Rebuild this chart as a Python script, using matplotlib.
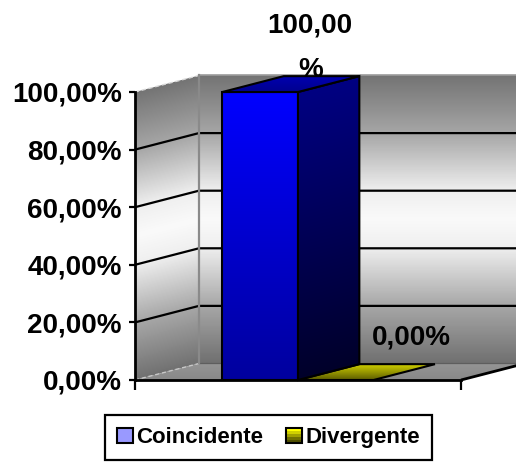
import numpy as np
import matplotlib
matplotlib.use("Agg")
import matplotlib.pyplot as plt
from matplotlib.patches import Polygon, Rectangle, Patch
from matplotlib.colors import LinearSegmentedColormap
from matplotlib.ticker import FuncFormatter
from matplotlib.legend_handler import HandlerBase

plt.rcParams['font.family'] = ['Liberation Sans', 'DejaVu Sans']
plt.rcParams['font.weight'] = 'bold'

# ---- data -------------------------------------------------------------
series_names = ["Coincidente", "Divergente"]
series_values = [100.0, 0.0]
y_ticks = [0, 20, 40, 60, 80, 100]

# ---- figure / front plane --------------------------------------------
W, H, DPI = 516, 463, 100
fig = plt.figure(figsize=(W / DPI, H / DPI), dpi=DPI)
fig.patch.set_facecolor('white')

ax = fig.add_axes([135 / W, 83 / H, 326 / W, 288 / H])
ax.set_autoscale_on(False)
ax.set_xlim(0, 1)
ax.set_ylim(0, 100)
ax.patch.set_visible(False)

# oblique depth vector of the 3-D box (data units of the front plane)
DX, DY = 0.196, 5.73
BAR_W = 0.232
BAR_DEPTH = 0.96


def pct(v):
    return f"{v:.2f}".replace('.', ',') + '%'


def shaded_face(verts, colors, base, slope, height, zorder, edge=None, lw=1.5):
    """Fill a polygon with a linear gradient running 'upwards' from a base line
    y = base[1] + slope * (x - base[0]) over the given height."""
    verts = np.asarray(verts, dtype=float)
    x0, y0 = verts.min(0)
    x1, y1 = verts.max(0)
    xs = np.linspace(x0, x1, 300)
    ys = np.linspace(y0, y1, 300)
    X, Y = np.meshgrid(xs, ys)
    t = (Y - (base[1] + slope * (X - base[0]))) / height
    cmap = LinearSegmentedColormap.from_list('face', colors)
    rgba = cmap(np.clip(t, 0, 1))
    im = ax.imshow(rgba, extent=(x0, x1, y0, y1), origin='lower', aspect='auto',
                   interpolation='bilinear', zorder=zorder)
    clip = Polygon(verts, closed=True, transform=ax.transData)
    im.set_clip_path(clip)
    im.set_clip_box(fig.bbox)
    if edge is not None:
        ax.add_patch(Polygon(verts, closed=True, fill=False, edgecolor=edge,
                             lw=lw, joinstyle='miter', clip_on=False,
                             zorder=zorder + 0.05))
    return im


wall_colors = [(0.0, '#717171'), (0.2, '#a8a8a8'), (0.4, '#efefef'),
               (0.5, '#fafafa'), (0.6, '#efefef'), (0.8, '#a6a6a6'),
               (1.0, '#747474')]

# back wall
shaded_face([(DX, DY), (1 + DX, DY), (1 + DX, 100 + DY), (DX, 100 + DY)],
            wall_colors, (DX, DY), 0.0, 100, zorder=1)
# side wall
shaded_face([(0, 0), (DX, DY), (DX, 100 + DY), (0, 100)],
            wall_colors, (0, 0), DY / DX, 100, zorder=1)
# floor
shaded_face([(0, 0), (1, 0), (1 + DX, DY), (DX, DY)],
            [(0, '#888888'), (1, '#959595')], (0, 0), 0.0, DY, zorder=1)

# gridlines on the walls
for v in y_ticks:
    if 0 < v < 100:
        ax.plot([0, DX, 1 + DX], [v, v + DY, v + DY], color='black', lw=1.6,
                clip_on=False, zorder=2, solid_capstyle='butt')
ax.plot([0, DX], [100, 100 + DY], color='#d9d9d9', lw=1.0, ls=(0, (3, 2)),
        clip_on=False, zorder=2)
ax.plot([0, DX], [0, DY], color='#c8c8c8', lw=1.0, ls=(0, (3, 2)),
        clip_on=False, zorder=2)
ax.plot([DX, 1 + DX], [100 + DY, 100 + DY], color='#9c9c9c', lw=1.2,
        clip_on=False, zorder=2)
ax.plot([DX, 1 + DX], [DY, DY], color='#5e5e5e', lw=0.9,
        clip_on=False, zorder=2)
ax.plot([DX, DX], [DY, 100 + DY], color='#8a8a8a', lw=1.6,
        clip_on=False, zorder=2)
# right edge of the floor
ax.plot([1, 1 + DX], [0, DY], color='black', lw=2.0, clip_on=False, zorder=5,
        solid_capstyle='butt')

# ---- 3-D bars ---------------------------------------------------------
face_styles = [
    dict(front=[(0, '#00009e'), (1, '#0000ff')],
         side=[(0, '#00002a'), (1, '#000082')],
         top=[(0, '#00008e'), (1, '#0000b0')]),
    dict(front=[(0, '#555500'), (1, '#cccc00')],
         side=[(0, '#333300'), (1, '#888800')],
         top=[(0, '#5c5c00'), (1, '#d2d200')]),
]

n = len(series_values)
bar_left = [0.5 - n * BAR_W / 2 + i * BAR_W for i in range(n)]
ddx, ddy = BAR_DEPTH * DX, BAR_DEPTH * DY

# draw right-hand bars first so the left bar's side face sits on top
for i in reversed(range(n)):
    v = series_values[i]
    xl, xr = bar_left[i], bar_left[i] + BAR_W
    st = face_styles[i]
    z = 3 + (n - i)
    if v > 0:
        shaded_face([(xl, 0), (xr, 0), (xr, v), (xl, v)], st['front'],
                    (xl, 0), 0.0, v, zorder=z, edge='black')
        shaded_face([(xr, 0), (xr + ddx, ddy), (xr + ddx, v + ddy), (xr, v)],
                    st['side'], (xr, 0), ddy / ddx, v, zorder=z + 0.1,
                    edge='black')
    shaded_face([(xl, v), (xr, v), (xr + ddx, v + ddy), (xl + ddx, v + ddy)],
                st['top'], (xl, v), 0.0, ddy, zorder=z + 0.2, edge='black')

# ---- data labels ------------------------------------------------------
label_offsets = [(14, 26), (32, 25)]
for i, v in enumerate(series_values):
    txt = pct(v)
    if len(txt) > 6:
        txt = txt[:-1] + '\n' + txt[-1]
    cx = bar_left[i] + BAR_W / 2 + ddx / 2
    cy = v + ddy / 2
    ax.annotate(txt, (cx, cy), xytext=label_offsets[i], textcoords='offset points',
                ha='center', va='center', fontsize=20, fontweight='bold',
                linespacing=1.9, zorder=8, annotation_clip=False)

# ---- axes -------------------------------------------------------------
for side in ('top', 'right'):
    ax.spines[side].set_visible(False)
ax.spines['left'].set_linewidth(2.0)
ax.spines['bottom'].set_linewidth(2.0)
ax.spines['left'].set_zorder(7)
ax.spines['bottom'].set_zorder(7)

ax.set_yticks(y_ticks)
ax.yaxis.set_major_formatter(FuncFormatter(lambda v, _: pct(v)))
ax.tick_params(axis='y', direction='out', length=4.5, width=1.6, pad=5,
               labelsize=20)
ax.set_xticks([0, 1])
ax.set_xticklabels(['', ''])
ax.tick_params(axis='x', direction='out', length=7, width=1.6)
for lab in ax.get_yticklabels():
    lab.set_fontweight('bold')


# ---- legend -----------------------------------------------------------
class HandlerShaded(HandlerBase):
    def __init__(self, colors):
        super().__init__()
        self.colors = colors

    def create_artists(self, legend, orig_handle, xdescent, ydescent,
                       width, height, fontsize, trans):
        arts = []
        k = len(self.colors)
        for j, c in enumerate(self.colors):
            arts.append(Rectangle((-xdescent, -ydescent + height * (k - 1 - j) / k),
                                  width, height / k, facecolor=c,
                                  edgecolor='none', transform=trans))
        arts.append(Rectangle((-xdescent, -ydescent), width, height, fill=False,
                              edgecolor='black', lw=1.5, transform=trans))
        return arts


h_coin = Patch(facecolor='#9999ff', edgecolor='black', lw=1.5)
h_div = Patch(facecolor='#aaaa00', edgecolor='black', lw=1.5)
leg = fig.legend([h_coin, h_div], series_names, loc='upper center',
                 bbox_to_anchor=(268.5 / W, (H - 415) / H), borderaxespad=0,
                 ncol=2, frameon=True, fancybox=False, edgecolor='black',
                 framealpha=1, borderpad=0.55, handlelength=0.7,
                 handleheight=0.72, handletextpad=0.15, columnspacing=1.05,
                 prop={'size': 16, 'weight': 'bold'},
                 handler_map={h_div: HandlerShaded(['#ffff00', '#d0d000', '#a0a000',
                                                    '#707000', '#505000'])})
leg.get_frame().set_linewidth(1.6)

fig.savefig('out.png', dpi=DPI)
